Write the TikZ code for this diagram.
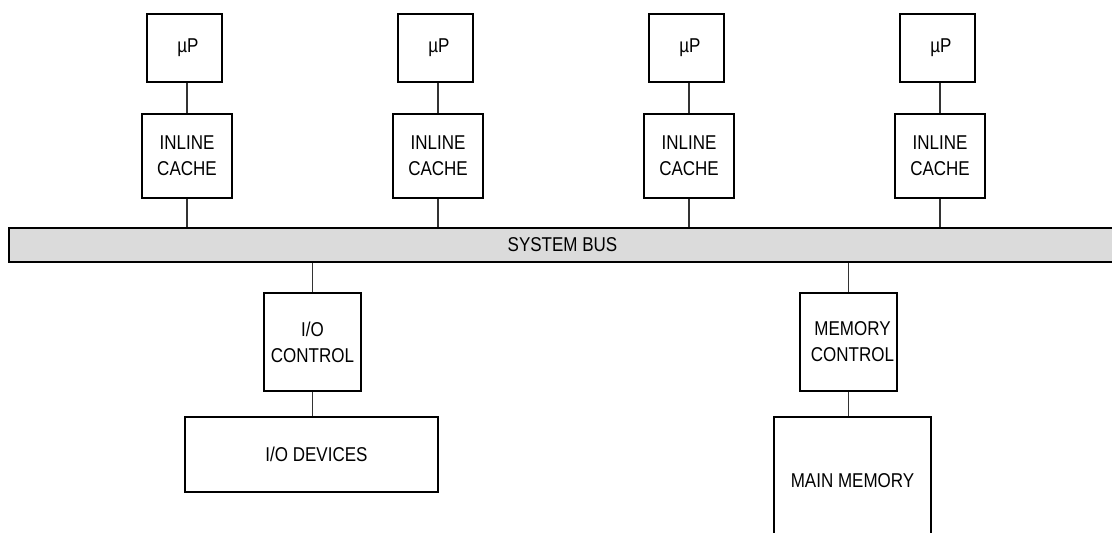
\documentclass[tikz,border=0pt]{standalone}
\usepackage{fontspec}
\setmainfont{Liberation Sans}[FakeStretch=0.85]
\begin{document}
\begin{tikzpicture}[x=1pt,y=-1pt,
  blk/.style={draw=black,line width=2.2pt,rectangle,inner sep=0pt,align=center,
    font=\fontsize{20}{26}\selectfont},
  wire/.style={draw=black!80,line width=1.2pt},
  bus/.style={blk,fill=black!14}]
\useasboundingbox (0,0) rectangle (1112,533);
\foreach \i/\ux/\cx in {1/184.5/187,2/435.5/438,3/686.5/689,4/937.5/940}{
  \node[blk,minimum width=75pt,minimum height=68pt] (up\i) at (\ux,48) {\hspace{7pt}µP};
  \node[blk,minimum width=90pt,minimum height=84pt] (ca\i) at (\cx,156) {INLINE\\CACHE};
}
\node[bus,minimum width=1107pt,minimum height=34pt] (sb) at (562.5,245) {SYSTEM BUS};
\node[blk,minimum width=97pt,minimum height=98pt] (ioc) at (312.5,342) {I/O\\CONTROL};
\node[blk,minimum width=253pt,minimum height=75pt] (iod) at (311.5,454.5) {\hspace{10pt}I/O DEVICES};
\node[blk,minimum width=97pt,minimum height=98pt] (mc) at (848.5,342) {\hspace{8pt}MEMORY\\\hspace{8pt}CONTROL};
\node[blk,minimum width=157pt,minimum height=128pt] (mm) at (852.5,481) {MAIN MEMORY};
\foreach \i in {1,...,4}{
  \draw[wire] (ca\i.north) -- (ca\i.north |- up\i.south);
  \draw[wire] (ca\i.south) -- (ca\i.south |- sb.north);
}
\draw[wire] (ioc.north) -- (ioc.north |- sb.south);
\draw[wire] (ioc.south) -- (ioc.south |- iod.north);
\draw[wire] (mc.north) -- (mc.north |- sb.south);
\draw[wire] (mc.south) -- (mc.south |- mm.north);
\end{tikzpicture}
\end{document}
